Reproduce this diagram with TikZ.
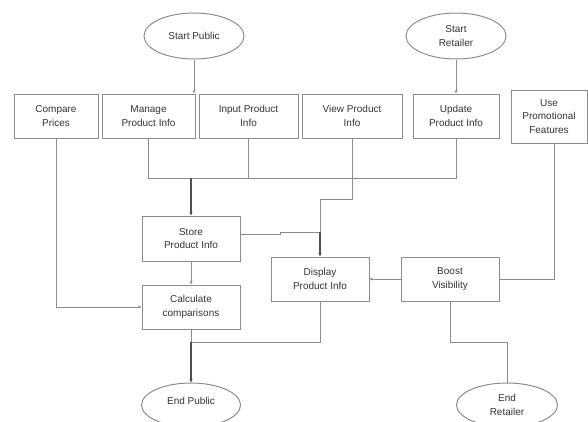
\documentclass[tikz,border=0pt]{standalone}
\usepackage{fontspec}
\setmainfont{Liberation Sans}
\usetikzlibrary{shapes.geometric,arrows.meta}
\definecolor{linegray}{HTML}{8C8C8C}
\definecolor{trunkgray}{HTML}{505050}
\definecolor{txtgray}{HTML}{333333}
\tikzset{
  box/.style={draw=linegray, line width=1pt, rectangle, align=center, inner sep=1pt,
    minimum height=44pt, text=txtgray, font=\fontsize{10}{13.5}\selectfont},
  term/.style={draw=linegray, line width=1pt, ellipse, align=center, inner sep=0pt,
    minimum width=100pt, minimum height=46pt, text=txtgray, font=\fontsize{10}{13.5}\selectfont},
  edge/.style={draw=linegray, line width=1pt},
  trunk/.style={draw=trunkgray, line width=1.1pt},
  arr/.style={-{Stealth[length=3.5pt,width=3pt]}}
}
\begin{document}
\begin{tikzpicture}[x=1pt,y=-1pt]
\useasboundingbox (0,0) rectangle (588,421);
% terminals
\node[term] (sp) at (194,36) {Start Public};
\node[term] (sr) at (456,36) {Start\\Retailer};
\node[term, minimum width=99pt, minimum height=44pt] (ep) at (191,405) {\raisebox{9pt}{End Public}};
\node[term, minimum width=101pt, minimum height=44pt] (er) at (507,405) {End\\Retailer};
% top row
\node[box, minimum width=84pt] (cp) at (56,116) {Compare\\Prices};
\node[box, minimum width=93pt] (mp) at (148.5,116) {Manage\\Product Info};
\node[box, minimum width=99pt] (ip) at (248.5,116) {Input Product\\Info};
\node[box, minimum width=100pt] (vp) at (352,116) {View Product\\Info};
\node[box, minimum width=86pt] (up) at (456,116) {Update\\Product Info};
\node[box, minimum width=76pt, minimum height=53pt] (pf) at (549,116.5) {Use\\Promotional\\Features};
% middle
\node[box, minimum width=98pt, minimum height=45pt] (st) at (191,238.5) {Store\\Product Info};
\node[box, minimum width=98pt] (cc) at (191,307) {Calculate\\comparisons};
\node[box, minimum width=98pt] (dp) at (320,279) {Display\\Product Info};
\node[box, minimum width=98pt] (bv) at (450,279) {Boost\\Visibility};
% junctions
\coordinate (j1) at (191,178);
\coordinate (j2) at (320,232);
\coordinate (j3) at (191,342);
% connectors
\draw[edge,arr] (sp.south) -- (sp.south |- mp.north);
\draw[edge,arr] (sr) -- (up);
\draw[edge] (mp.south) |- (j1);
\draw[edge] (ip.south) |- (j1);
\draw[edge] (up.south) |- (j1);
\draw[trunk,arr] (j1) -- (st.north);
\draw[edge] ([yshift=4.5pt]st.east) -- (280,234) -- (280,232) -- (j2);
\draw[edge] (vp.south) |- (320,199) -- (j2);
\draw[trunk,arr] (j2) -- (dp.north);
\draw[edge,arr] (cp.south) |- (cc.west);
\draw[edge,arr] (st) -- (cc);
\draw[edge] (cc.south) -- (j3);
\draw[edge] (dp.south) |- (j3);
\draw[trunk,arr] (j3) -- (ep.north);
\draw[edge,arr] (bv) -- (dp);
\draw[edge] ([xshift=5pt]pf.south) |- (bv.east);
\draw[edge] (bv.south) |- (er.north |- j3) -- (er.north);
\end{tikzpicture}
\end{document}
